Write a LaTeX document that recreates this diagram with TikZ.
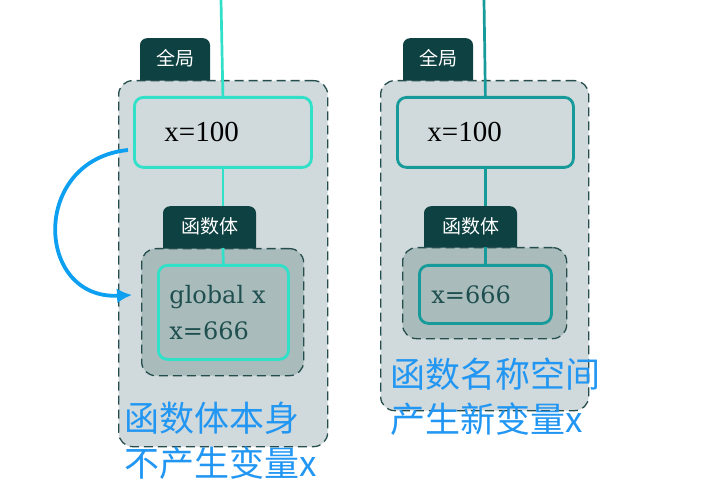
\documentclass[tikz,border=0pt]{standalone}
\usepackage{fontspec}
\setmainfont{Liberation Serif}
\newfontfamily\cjk{Noto Sans CJK SC}
\newfontfamily\codefont{DejaVu Serif}
\usetikzlibrary{arrows.meta,positioning}
\definecolor{PanelGray}{HTML}{D0D9DB}
\definecolor{InnerGray}{HTML}{A9BBBB}
\definecolor{TabTeal}{HTML}{0E4142}
\definecolor{EdgeTeal}{HTML}{264D4D}
\definecolor{Turq}{HTML}{30E0C8}
\definecolor{DeepTurq}{HTML}{169A9A}
\definecolor{NoteBlue}{HTML}{2196F3}
\definecolor{ArrowBlue}{HTML}{0EA0F0}
\definecolor{CodeTeal}{HTML}{1F4F4F}

\begin{document}
\begin{tikzpicture}[x=1pt,y=-1pt,>=Latex,
  tab/.style={fill=TabTeal,text=white,rounded corners=7pt,minimum height=52pt,inner sep=0pt,text height=14pt,text depth=12pt,anchor=north,font=\cjk\fontsize{19}{20}\selectfont},
  scopebox/.style={draw=EdgeTeal,line width=1.3pt,dash pattern=on 9pt off 5pt,rounded corners=14pt,inner sep=0pt},
  varbox/.style={line width=2.8pt,rounded corners=9pt,align=left,inner ysep=0pt,fill=PanelGray,font=\fontsize{29}{30}\selectfont},
  codebox/.style={line width=2.8pt,rounded corners=9pt,align=left,inner ysep=0pt,fill=InnerGray,text=CodeTeal,font=\codefont\fontsize{24}{36}\selectfont},
  link/.style={line width=2.7pt},
  note/.style={text=NoteBlue,align=left,inner sep=0pt,anchor=north west,font=\cjk\fontsize{35}{45}\selectfont}]
\useasboundingbox (0,0) rectangle (707,497);

\node[tab,minimum width=70pt] (tg1) at (175,38) {全局};
\node[scopebox,fill=PanelGray,minimum width=209pt,minimum height=366pt,anchor=north west] (g1) at (118,80) {};
\node[varbox,draw=Turq,minimum height=70pt,text width=117pt,inner xsep=30pt,anchor=north west] (v1) at (133,96) {x=100};
\node[tab,minimum width=93pt] (tf1) at (209.5,206) {函数体};
\node[scopebox,fill=InnerGray,minimum width=162pt,minimum height=127pt,anchor=north west] (f1) at (141,248) {};
\node[codebox,draw=Turq,minimum height=94pt,text width=108pt,inner xsep=11pt,anchor=north west] (c1) at (157,264) {global x\\x=666};
\coordinate (top1) at (221,0);
\draw[Turq,link] (top1) -- (v1.north);
\draw[Turq,link] (v1.south) -- (v1.south |- tf1.north);
\draw[Turq,link] (v1.south |- f1.north) -- (c1.north);
\coordinate (from1) at (128,150);
\coordinate (to1) at (132,295);
\draw[->,ArrowBlue,line width=3.8pt,arrows={-Latex[length=15pt,width=15pt]}] (from1) .. controls (30,160) and (35,300) .. (to1);
\node[note] (n1) at (124,402) {函数体本身\\不产生变量x};

\node[tab,minimum width=70pt] (tg2) at (438,38) {全局};
\node[scopebox,fill=PanelGray,minimum width=208pt,minimum height=330pt,anchor=north west] (g2) at (380,80) {};
\node[varbox,draw=DeepTurq,minimum height=70pt,text width=116pt,inner xsep=30pt,anchor=north west] (v2) at (396,96) {x=100};
\node[tab,minimum width=93pt] (tf2) at (470.5,206) {函数体};
\node[scopebox,fill=InnerGray,minimum width=164pt,minimum height=91pt,anchor=north west] (f2) at (402,247) {};
\node[codebox,draw=DeepTurq,minimum height=58pt,text width=108pt,inner xsep=12pt,anchor=north west] (c2) at (418,264) {x=666};
\coordinate (top2) at (484,0);
\draw[DeepTurq,link] (top2) -- (v2.north);
\draw[DeepTurq,link] (v2.south) -- (v2.south |- tf2.north);
\draw[DeepTurq,link] (v2.south |- f2.north) -- (c2.north);
\node[note] (n2) at (390,358) {函数名称空间\\产生新变量x};
\end{tikzpicture}
\end{document}
